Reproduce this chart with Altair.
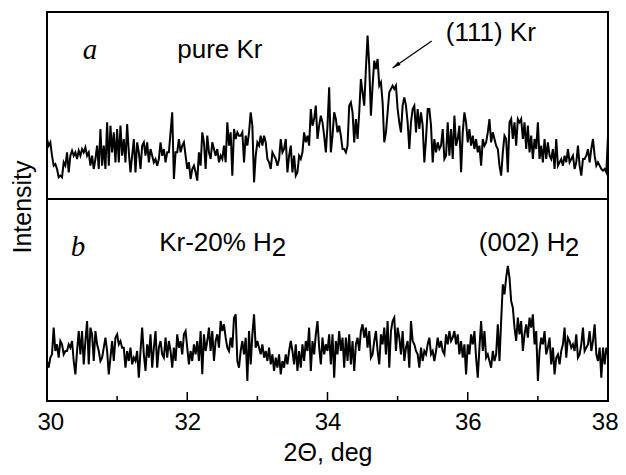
import altair as alt
import numpy as np
import pandas as pd

# ---- data (arbitrary intensity units) ----
# panel a: pure Kr, 2-theta scan 30..38 deg
kr_pure = [
    180, 160, 170, 130, 100, 105, 90, 65, 70, 65,
    110, 100, 140, 80, 130, 145, 130, 140, 120, 145,
    130, 150, 140, 155, 130, 140, 100, 130, 90, 120,
    160, 90, 210, 100, 160, 90, 230, 100, 220, 140,
    200, 110, 210, 110, 220, 130, 180, 110, 225, 140,
    80, 130, 180, 80, 170, 140, 90, 160, 170, 130,
    170, 110, 150, 130, 110, 120, 100, 120, 170, 130,
    150, 110, 140, 140, 200, 260, 60, 140, 140, 180,
    140, 160, 170, 130, 90, 110, 60, 90, 100, 80,
    55, 140, 100, 200, 170, 90, 190, 140, 120, 170,
    150, 130, 150, 110, 130, 120, 160, 110, 230, 160,
    200, 70, 210, 180, 200, 190,
    190, 200, 110, 190, 160, 200, 260, 220, 50, 130,
    170, 160, 190, 160, 190, 170, 120, 110, 90, 140,
    130, 120, 100, 120, 180, 140, 150, 180, 80, 130,
    160, 80, 130, 70, 80, 130, 120, 140, 200, 170,
    190, 160, 270, 220, 240, 280, 180, 220, 250, 230,
    190, 140, 220, 335, 140, 190, 260, 240, 200, 220,
    190, 150, 150, 140, 160, 280, 290, 260, 170, 240,
    180, 260, 360, 320, 280, 390, 490, 400, 250, 340,
    415, 390, 420, 340, 350, 290, 170, 200, 260, 320,
    330, 340, 330, 340, 270, 230, 200, 280, 305, 280,
    230, 150, 230, 270, 280, 200, 270, 210, 260, 220,
    110, 180, 270, 270,
    220, 110, 180, 140, 170, 150, 160, 210, 120, 130,
    230, 130, 210, 120, 250, 160, 180, 220, 80, 200,
    260, 230, 170, 210, 160, 190, 150, 180, 140, 160,
    100, 180, 160, 170, 200, 240, 170, 200, 180, 160,
    150, 100, 70, 140, 190, 180, 80, 230, 240, 180,
    230, 160, 240, 230, 240, 180, 230, 150, 220, 140,
    190, 120, 180, 150, 230, 120, 160, 110, 180, 120,
    170, 130, 120, 150, 90, 180, 100, 110, 120, 100,
    130, 110, 150, 110, 120, 130, 90, 110, 160, 100,
    70, 120, 120, 130, 150, 110, 150, 180, 130, 100,
    110, 100, 90, 85, 90, 80, 190,
]

# panel b: Kr-20% H2
kr_h2 = [
    120, 100, 130, 140, 220, 150, 170, 130, 180, 170,
    140, 150, 150, 170, 160, 180, 120, 80, 150, 210,
    140, 210, 110, 180, 240, 110, 220, 200, 120, 210,
    170, 150, 120, 130, 160, 190, 150, 80, 130, 180,
    120, 190, 200, 170, 180, 160, 160, 100, 150, 120,
    160, 110, 130, 120, 150, 70, 150, 220, 140, 90,
    170, 130, 200, 100, 160, 210, 100, 160, 180, 140,
    130, 190, 130, 180, 150, 100, 160, 120, 200, 160,
    180, 140, 200, 210, 160, 110, 150, 120, 170, 140,
    180, 120, 210, 80, 200, 150, 180, 220, 150, 210,
    120, 180, 200, 160, 240, 210, 230, 190, 160, 150,
    190, 160, 250, 260, 120, 100,
    150, 180, 140, 190, 60, 210, 110, 200, 260, 160,
    180, 160, 140, 170, 130, 150, 120, 160, 110, 140,
    90, 130, 100, 140, 80, 120, 100, 140, 110, 150,
    180, 150, 110, 170, 90, 150, 100, 170, 120, 180,
    150, 220, 90, 180, 140, 200, 240, 160, 110, 190,
    140, 170, 150, 200, 110, 200, 70, 180, 140, 210,
    150, 190, 100, 190, 120, 200, 110, 180, 90, 170,
    190, 150, 210, 230, 190, 220, 160, 210, 130, 140,
    180, 210, 150, 110, 200, 170, 220, 140, 240, 100,
    210, 240, 250, 150, 220, 190, 140, 210, 120, 160,
    180, 100, 240, 180, 170, 150, 140, 100, 160, 120,
    150, 140, 170, 190,
    140, 150, 120, 150, 190, 160, 180, 150, 140, 200,
    170, 210, 180, 190, 210, 170, 200, 140, 180, 130,
    170, 80, 170, 140, 200, 170, 210, 130, 70, 160,
    240, 150, 210, 130, 140, 120, 100, 150, 120, 140,
    230, 120, 240, 350, 320, 370, 405, 370, 300, 280,
    220, 180, 250, 200, 240, 150, 200, 230, 190, 250,
    220, 260, 170, 210, 60, 150, 190, 170, 210, 140,
    160, 190, 110, 160, 80, 130, 140, 110, 150, 170,
    220, 130, 190, 180, 160, 170, 150, 200, 130, 140,
    170, 220, 150, 160, 170, 210, 150, 180, 230, 140,
    120, 160, 70, 160, 110, 160, 140,
]

x_ticks_major = [30, 32, 34, 36, 38]
x_ticks_minor = [31, 33, 35, 37]

LOWER_SPAN = 606      # intensity span of the lower panel
UPPER_SPAN = 561      # intensity span of the upper panel
TOTAL = LOWER_SPAN + UPPER_SPAN

SANS = "Liberation Sans"
SERIF = "Liberation Serif"

df = pd.concat([
    pd.DataFrame({"two_theta": np.linspace(30, 38, len(kr_pure)),
                  "intensity": kr_pure, "panel": "a", "offset": LOWER_SPAN}),
    pd.DataFrame({"two_theta": np.linspace(30, 38, len(kr_h2)),
                  "intensity": kr_h2, "panel": "b", "offset": 0}),
])

W, H = 561, 389
xs = alt.Scale(domain=[30, 38], nice=False, zero=False)
ys = alt.Scale(domain=[0, TOTAL], nice=False, zero=False)

base = alt.Chart(df)

lines = base.mark_line(color="black", strokeWidth=2).transform_calculate(
    y_plot="datum.intensity + datum.offset"
).encode(
    x=alt.X("two_theta:Q", scale=xs, axis=alt.Axis(
        values=x_ticks_major, format="d", title="2Θ,  deg",
        labelFont=SANS, labelFontSize=24, labelColor="black",
        labelFlush=True, labelFlushOffset=10, labelOverlap=False,
        labelPadding=9, ticks=False, tickSize=0, domain=False, grid=False,
        titleFont=SANS, titleFontSize=25, titleFontWeight="normal",
        titleColor="black", titlePadding=6)),
    y=alt.Y("y_plot:Q", scale=ys, axis=alt.Axis(
        labels=False, ticks=False, tickSize=0, domain=False, grid=False,
        title="Intensity", titleFont=SANS, titleFontSize=25,
        titleFontWeight="normal", titleColor="black", titlePadding=12)),
    detail="panel:N",
)

divider = alt.Chart(pd.DataFrame({"y": [LOWER_SPAN]})).mark_rule(
    color="black", strokeWidth=2).encode(y=alt.Y("y:Q", scale=ys))

major = alt.Chart(pd.DataFrame({"t": x_ticks_major})).mark_rule(
    color="black", strokeWidth=1.5).encode(
    x=alt.X("t:Q", scale=xs), y=alt.value(H), y2=alt.value(H - 9))
minor = alt.Chart(pd.DataFrame({"t": x_ticks_minor})).mark_rule(
    color="black", strokeWidth=1.5).encode(
    x=alt.X("t:Q", scale=xs), y=alt.value(H), y2=alt.value(H - 5))

sans_labels = pd.DataFrame({
    "label": ["pure Kr", "(111) Kr", "Kr-20% H", "2", "(002) H", "2"],
    "x": [31.857, 35.686, 31.60, 33.205, 36.157, 37.385],
    "y": [1029, 1080, 450, 435, 450, 435],
})
texts = alt.Chart(sans_labels).mark_text(
    font=SANS, fontSize=26, align="left", baseline="alphabetic", color="black"
).encode(x=alt.X("x:Q", scale=xs), y=alt.Y("y:Q", scale=ys), text="label:N")

serif_labels = pd.DataFrame({
    "label": ["a", "b"],
    "x": [30.614, 30.443],
    "y": [1026, 435],
})
letters = alt.Chart(serif_labels).mark_text(
    font=SERIF, fontSize=29, fontStyle="italic", align="center",
    baseline="alphabetic", color="black"
).encode(x=alt.X("x:Q", scale=xs), y=alt.Y("y:Q", scale=ys), text="label:N")

arrow_df = pd.DataFrame({"x": [35.486], "y": [1080], "x2": [34.929], "y2": [999]})
arrow_line = alt.Chart(arrow_df).mark_rule(color="black", strokeWidth=1.3).encode(
    x=alt.X("x:Q", scale=xs), y=alt.Y("y:Q", scale=ys), x2="x2:Q", y2="y2:Q")
head_df = pd.DataFrame({"x": [34.976], "y": [1006]})
arrow_head = alt.Chart(head_df).mark_point(
    shape="M0,-1L-0.5,1L0.5,1Z", filled=True, color="black", opacity=1,
    size=70, angle=235).encode(x=alt.X("x:Q", scale=xs), y=alt.Y("y:Q", scale=ys))

chart = alt.layer(
    lines, divider, major, minor, texts, letters, arrow_line, arrow_head
).properties(
    width=W, height=H,
    padding={"left": 2, "top": 4, "right": 0, "bottom": 5},
).configure_view(stroke="black", strokeWidth=2)

chart.save("out.html", embed_options={"renderer": "svg", "actions": False})
